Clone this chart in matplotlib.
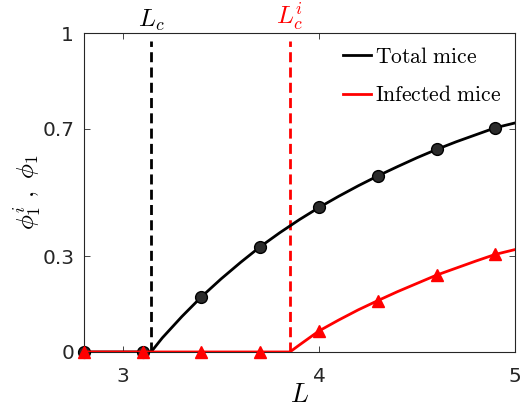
import matplotlib
matplotlib.use("Agg")
import matplotlib.pyplot as plt

plt.rcParams["mathtext.fontset"] = "cm"
plt.rcParams["font.family"] = "DejaVu Sans"

# critical lengths
L_c = 3.143
L_c_inf = 3.851

# sampled points (markers)
L_pts = [2.8, 3.1, 3.4, 3.7, 4.0, 4.3, 4.6, 4.9]
phi_total_pts = [0.0, 0.0, 0.173, 0.330, 0.453, 0.552, 0.635, 0.703]
phi_inf_pts = [0.0, 0.0, 0.0, 0.0, 0.066, 0.161, 0.241, 0.306]

# continuous branches
L_total = [2.8, 3.143, 3.2, 3.3, 3.4, 3.5, 3.6, 3.7, 3.8, 3.9, 4.0,
           4.1, 4.2, 4.3, 4.4, 4.5, 4.6, 4.7, 4.8, 4.9, 5.0]
phi_total = [0.0, 0.0, 0.044, 0.111, 0.173, 0.229, 0.281, 0.330, 0.374,
             0.415, 0.453, 0.488, 0.521, 0.552, 0.581, 0.609, 0.635,
             0.659, 0.681, 0.703, 0.718]
L_inf = [2.8, 3.851, 3.9, 4.0, 4.1, 4.2, 4.3, 4.4, 4.5, 4.6, 4.7,
         4.8, 4.9, 5.0]
phi_inf = [0.0, 0.0, 0.022, 0.066, 0.100, 0.132, 0.161, 0.189, 0.215,
           0.241, 0.263, 0.285, 0.306, 0.321]

fig = plt.figure(figsize=(5.21, 4.18), dpi=100)
ax = fig.add_axes([0.161, 0.158, 0.8275, 0.763])

# threshold markers, dashed down from just under the top spine
dash = (0, (3.6, 1.9))
ax.plot([L_c, L_c], [0, 0.975], color="black", linestyle=dash, linewidth=2)
ax.plot([L_c_inf, L_c_inf], [0, 0.975], color="red", linestyle=dash, linewidth=2)

ax.plot(L_total, phi_total, color="black", linewidth=2, label=r"$\mathrm{Total\ mice}$")
ax.plot(L_pts, phi_total_pts, linestyle="none", marker="o", markersize=8.5,
        markerfacecolor="#2b2b2b", markeredgecolor="black", clip_on=False, zorder=3)
ax.plot(L_inf, phi_inf, color="red", linewidth=2, label=r"$\mathrm{Infected\ mice}$",
        zorder=4)
ax.plot(L_pts, phi_inf_pts, linestyle="none", marker="^", markersize=9,
        color="red", clip_on=False, zorder=5)

ax.set_xlim(2.8, 5)
ax.set_ylim(0, 1)
ax.set_xticks([3, 4, 5])
ax.set_yticks([0, 0.3, 0.7, 1])
ax.set_yticklabels(["0", "0.3", "0.7", "1"])
ax.tick_params(direction="in", top=True, right=True, labelsize=14.5,
               colors="#262626", length=4, width=0.6, pad=7)
ax.tick_params(axis="x", pad=11)
for s in ax.spines.values():
    s.set_linewidth(0.8)
    s.set_color("#262626")

ax.set_xlabel(r"$L$", fontsize=19, labelpad=-3)
ax.set_ylabel(r"$\phi_1^i\ ,\ \phi_1$", fontsize=18, labelpad=-1)

ax.text(L_c, 1.0, r"$L_c$", fontsize=18, ha="center", va="bottom",
        transform=ax.get_xaxis_transform())
ax.text(L_c_inf, 1.0, r"$L_c^i$", fontsize=18, ha="center", va="bottom",
        color="red", transform=ax.get_xaxis_transform())

ax.legend(loc="upper right", frameon=False, fontsize=15.5, handlelength=1.3,
          handletextpad=0.2, labelspacing=0.85, borderaxespad=0.25)

fig.savefig("out.png", dpi=100)
